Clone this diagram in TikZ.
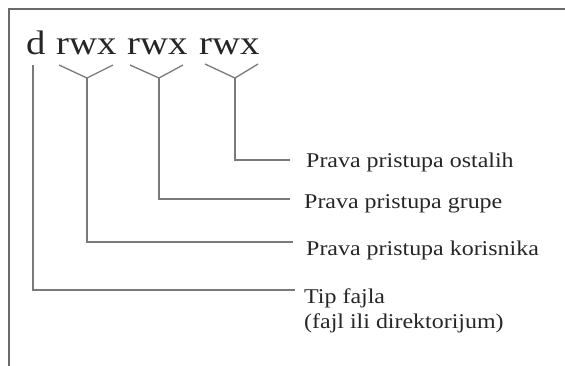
\documentclass[tikz,border=0pt]{standalone}
\usepackage{fontspec}
\setmainfont{Liberation Serif}
\newfontfamily\wideserif[FakeStretch=1.14]{Liberation Serif}
\definecolor{inkgray}{HTML}{262626}
\definecolor{linegray}{HTML}{7A7A7A}
\definecolor{framegray}{HTML}{6A6A6A}
\tikzset{
  bigtext/.style={anchor=base west, inner sep=0pt, text=inkgray,
    font=\wideserif\fontsize{34}{38}\selectfont},
  labeltext/.style={anchor=base west, inner sep=0pt, text=inkgray, align=left,
    font=\wideserif\fontsize{21}{25}\selectfont},
  leader/.style={draw=linegray, line width=1.3pt},
  frameline/.style={draw=framegray, line width=1.6pt}
}
\begin{document}
\begin{tikzpicture}[x=1pt,y=-1pt]
\useasboundingbox (0,0) rectangle (565,365);
% frame (top and left edges)
\draw[frameline] (9,366) -- (9,9) -- (566,9);

% permission string
\node[bigtext] (d) at (26,54) {d};
\node[bigtext] (u) at (56,54) {rwx};
\node[bigtext] (g) at (127,54) {rwx};
\node[bigtext] (o) at (199,54) {rwx};

% bracket tips and joints
\coordinate (dj) at (33,65);
\coordinate (ul) at (59,65);  \coordinate (uj) at (87,78);  \coordinate (ur) at (113,65);
\coordinate (gl) at (130,65); \coordinate (gj) at (159,78); \coordinate (gr) at (183,65);
\coordinate (ol) at (205,64); \coordinate (oj) at (235,78); \coordinate (or) at (258,64);

% leader line ends
\coordinate (oe) at (290,160);
\coordinate (ge) at (290,199);
\coordinate (ue) at (293,242);
\coordinate (de) at (295,290);

% labels (a two-line node sits on the baseline of its last line)
\node[labeltext] (lo) at (306,167) {Prava pristupa ostalih};
\node[labeltext] (lg) at (304,208) {Prava pristupa grupe};
\node[labeltext] (lu) at (306,255) {Prava pristupa korisnika};
\node[labeltext] (ld) at (304,328) {Tip fajla\\(fajl ili direktorijum)};

% brackets
\draw[leader] (ul) -- (uj) -- (ur);
\draw[leader] (gl) -- (gj) -- (gr);
\draw[leader] (ol) -- (oj) -- (or);

% leaders
\draw[leader] (oj) |- (oe);
\draw[leader] (gj) |- (ge);
\draw[leader] (uj) |- (ue);
\draw[leader] (dj) |- (de);
\end{tikzpicture}
\end{document}
